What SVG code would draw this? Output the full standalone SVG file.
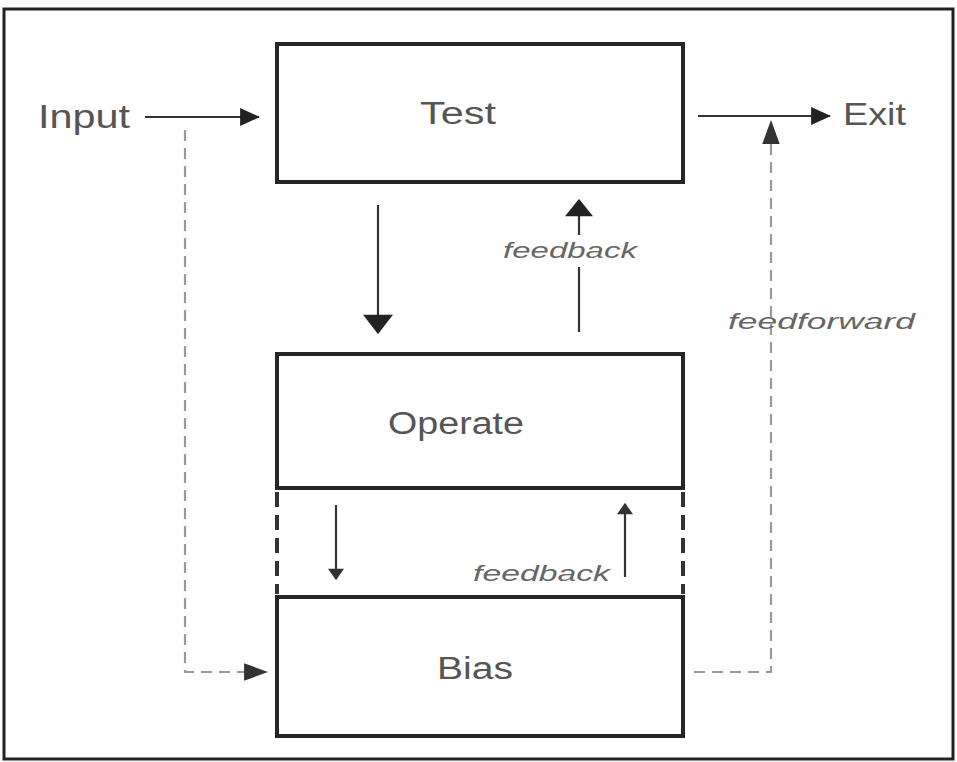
<svg xmlns="http://www.w3.org/2000/svg" width="957" height="762" viewBox="0 0 957 762">
<style>
.box{fill:#fff;stroke:#262626;stroke-width:4}
.lbl{font-family:"Liberation Sans",Arial,sans-serif;fill:#555;}
.it{font-family:"Liberation Sans",Arial,sans-serif;font-style:italic;fill:#666;font-size:22px}
.sol{stroke:#333;stroke-width:2.2;fill:none}
.dash{stroke:#999;stroke-width:2.2;fill:none;stroke-dasharray:11 7}
.side{stroke:#333;stroke-width:4;fill:none;stroke-dasharray:15 8}
</style>
<defs>
<marker id="ah" markerUnits="userSpaceOnUse" markerWidth="20" markerHeight="20" viewBox="0 0 18 16" refX="17" refY="8" orient="auto"><path d="M0,0 L18,8 L0,16 Z" fill="#222"/></marker>
<marker id="ahBig" markerUnits="userSpaceOnUse" markerWidth="20" markerHeight="30" viewBox="0 0 18 28" refX="17" refY="14" orient="auto"><path d="M0,0 L18,14 L0,28 Z" fill="#222"/></marker>
<marker id="ahMid" markerUnits="userSpaceOnUse" markerWidth="18" markerHeight="28" viewBox="0 0 16 26" refX="15" refY="13" orient="auto"><path d="M0,0 L16,13 L0,26 Z" fill="#222"/></marker>
<marker id="ahSm" markerUnits="userSpaceOnUse" markerWidth="12" markerHeight="16" viewBox="0 0 10 14" refX="9" refY="7" orient="auto"><path d="M0,0 L10,7 L0,14 Z" fill="#333"/></marker>
<marker id="ahD" markerUnits="userSpaceOnUse" markerWidth="24" markerHeight="18" viewBox="0 0 22 16" refX="21" refY="8" orient="auto"><path d="M0,0 L22,8 L0,16 Z" fill="#333"/></marker>
</defs>
<rect x="4" y="9" width="949" height="750" fill="#fff" stroke="#222" stroke-width="3"/>
<g id="connectors">
<line class="sol" x1="145" y1="117" x2="259" y2="117" marker-end="url(#ah)"/>
<line class="sol" x1="698" y1="116" x2="830" y2="116" marker-end="url(#ah)"/>
<line class="sol" x1="378" y1="205" x2="378" y2="333" stroke-width="3" marker-end="url(#ahBig)"/>
<line class="sol" x1="579" y1="235" x2="579" y2="200" marker-end="url(#ahMid)"/>
<line class="sol" x1="579" y1="332" x2="579" y2="267"/>
<line class="sol" x1="336" y1="505" x2="336" y2="579" marker-end="url(#ahSm)"/>
<line class="sol" x1="625" y1="577" x2="625" y2="504" marker-end="url(#ahSm)"/>
<polyline class="dash" points="185,130 185,672 267,672" marker-end="url(#ahD)"/>
<polyline class="dash" points="694,672 771,672 771,121" marker-end="url(#ahD)"/>
<line class="side" x1="277" y1="492" x2="277" y2="594"/>
<line class="side" x1="683" y1="492" x2="683" y2="594"/>
</g>
<g id="test">
<rect class="box" x="277" y="44" width="406" height="138"/>
<text class="lbl" x="458" y="124" font-size="31" text-anchor="middle" textLength="76" lengthAdjust="spacingAndGlyphs">Test</text>
</g>
<g id="operate">
<rect class="box" x="277" y="354" width="406" height="134"/>
<text class="lbl" x="456" y="434" font-size="31" text-anchor="middle" textLength="136" lengthAdjust="spacingAndGlyphs">Operate</text>
</g>
<g id="bias">
<rect class="box" x="277" y="597" width="406" height="139"/>
<text class="lbl" x="475" y="679" font-size="31" text-anchor="middle" textLength="76" lengthAdjust="spacingAndGlyphs">Bias</text>
</g>
<g id="input">
<text class="lbl" x="38" y="128" font-size="34" textLength="92" lengthAdjust="spacingAndGlyphs">Input</text>
</g>
<g id="exit">
<text class="lbl" x="843" y="125" font-size="31" textLength="63" lengthAdjust="spacingAndGlyphs">Exit</text>
</g>
<text class="it" x="503" y="258" textLength="134" lengthAdjust="spacingAndGlyphs">feedback</text>
<text class="it" x="473" y="581" textLength="137" lengthAdjust="spacingAndGlyphs">feedback</text>
<text class="it" x="728" y="329" textLength="187" lengthAdjust="spacingAndGlyphs">feedforward</text>
</svg>
